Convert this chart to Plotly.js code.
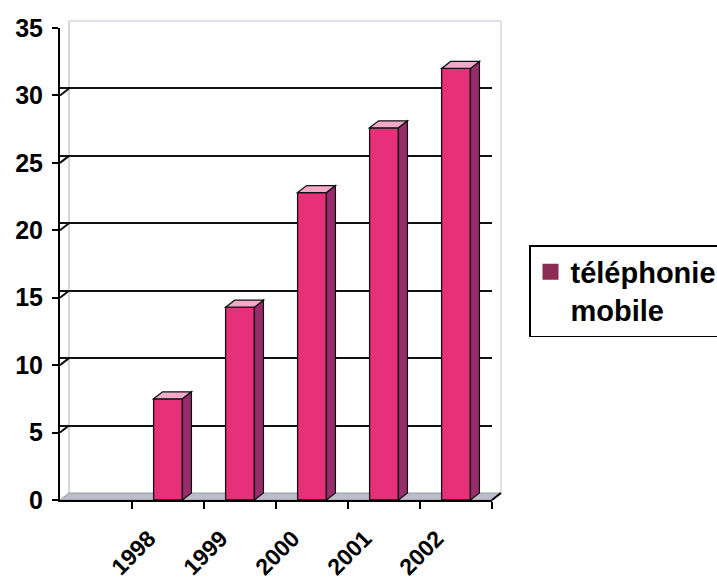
<!DOCTYPE html>
<html>
<head>
<meta charset="utf-8">
<script src="https://cdn.plot.ly/plotly-3.0.1.min.js"></script>
<style>html,body{margin:0;padding:0;background:#fff;}#chart{width:717px;height:581px;}</style>
</head>
<body>
<div id="chart"></div>
<script>
// ---- data ----
var years = ['1998', '1999', '2000', '2001', '2002'];
var values = [7.5, 14.3, 22.8, 27.6, 32.0];
var yTicks = [0, 5, 10, 15, 20, 25, 30, 35];
var seriesName = 'téléphonie<br>mobile';

// ---- style / geometry ----
var FRONT = '#e6317a', SIDE = '#9a2c6c', TOP = '#f5a9c8', SWATCH = '#8c2b55';
var BAR_W = 0.4;
var X_RANGE = [-1.5, 4.5], Y_RANGE = [0, 35];
var L = 60, R = 225, T = 28, B = 81, W = 717, H = 581;
var plotW = W - L - R, plotH = H - T - B;
var DXPX = 9, DYPX = 7; // depth offset in pixels
var DX = DXPX / plotW * (X_RANGE[1] - X_RANGE[0]);
var DY = DYPX / plotH * (Y_RANGE[1] - Y_RANGE[0]);
var dxp = DXPX / plotW, dyp = DYPX / plotH;

var xs = years.map(function (_, i) { return i; });
var bounds = [];
var boundText = [];
for (var i = 0; i <= years.length; i++) { bounds.push(i - 0.5); boundText.push(i < years.length ? years[i] : ''); }

var shapes = [];
// back wall edges and floor (paper refs)
shapes.push({type: 'path', xref: 'paper', yref: 'paper', layer: 'below',
  path: 'M0,0 L1,0 L' + (1 + dxp) + ',' + dyp + ' L' + dxp + ',' + dyp + ' Z',
  fillcolor: '#bcbccb', line: {color: '#9a9aa8', width: 1}});
shapes.push({type: 'line', xref: 'paper', yref: 'paper', layer: 'below',
  x0: dxp, y0: dyp, x1: dxp, y1: 1 + dyp, line: {color: '#c8c8d4', width: 1.5}});
shapes.push({type: 'line', xref: 'paper', yref: 'paper', layer: 'below',
  x0: dxp, y0: 1 + dyp, x1: 1 + dxp, y1: 1 + dyp, line: {color: '#d4d8e4', width: 1.5}});
shapes.push({type: 'line', xref: 'paper', yref: 'paper', layer: 'below',
  x0: 1 + dxp, y0: dyp, x1: 1 + dxp, y1: 1 + dyp, line: {color: '#d4d4dc', width: 1.5}});
shapes.push({type: 'line', xref: 'paper', yref: 'paper', layer: 'above',
  x0: 1, y0: 0, x1: 1 + dxp, y1: dyp, line: {color: '#000', width: 2}});
// small connectors from front ticks to back-wall gridlines
yTicks.slice(1, -1).forEach(function (v) {
  shapes.push({type: 'line', xref: 'paper', yref: 'y', layer: 'below',
    x0: 0, y0: v, x1: dxp, y1: v + DY, line: {color: '#111', width: 2}});
});
// 3D faces of bars
xs.forEach(function (x, i) {
  var v = values[i], xl = x - BAR_W / 2, xr = x + BAR_W / 2;
  shapes.push({type: 'path', xref: 'x', yref: 'y', layer: 'above',
    path: 'M' + xr + ',0 L' + (xr + DX) + ',' + DY + ' L' + (xr + DX) + ',' + (v + DY) + ' L' + xr + ',' + v + ' Z',
    fillcolor: SIDE, line: {color: '#111', width: 1.3}});
  shapes.push({type: 'path', xref: 'x', yref: 'y', layer: 'above',
    path: 'M' + xl + ',' + v + ' L' + (xl + DX) + ',' + (v + DY) + ' L' + (xr + DX) + ',' + (v + DY) + ' L' + xr + ',' + v + ' Z',
    fillcolor: TOP, line: {color: '#111', width: 1.3}});
});

var fontFam = 'Liberation Sans, Arial, sans-serif';

var data = [
  {type: 'bar', x: xs, y: values, width: BAR_W, showlegend: false,
   marker: {color: FRONT, line: {color: '#111', width: 1.3}}, hoverinfo: 'x+y'},
  {type: 'scatter', mode: 'markers', x: [null], y: [null], name: seriesName,
   marker: {symbol: 'square', size: 16, color: SWATCH, line: {width: 0}}},
  // helper trace on back-wall axis to show gridlines
  {type: 'scatter', mode: 'markers', x: [null], y: [null], yaxis: 'y2', showlegend: false, hoverinfo: 'skip'}
];

var layout = {
  width: W, height: H,
  margin: {l: L, r: R, t: T, b: B, autoexpand: false},
  paper_bgcolor: '#fff', plot_bgcolor: 'rgba(0,0,0,0)',
  showlegend: true,
  xaxis: {
    range: X_RANGE, tickmode: 'array', tickvals: bounds, ticktext: boundText,
    tickangle: -45, ticks: 'outside', ticklen: 7, tickwidth: 1.5, tickcolor: '#000',
    ticklabelshift: 17, ticklabelstandoff: 7,
    showline: true, linecolor: '#000', linewidth: 2, showgrid: false, zeroline: false,
    tickfont: {family: fontFam, size: 23, color: '#000', weight: 'bold'}, fixedrange: true
  },
  yaxis: {
    range: Y_RANGE, tickmode: 'array', tickvals: yTicks,
    ticks: 'outside', ticklen: 6, tickwidth: 2, tickcolor: '#000', ticklabelstandoff: 4,
    showline: true, linecolor: '#000', linewidth: 2, showgrid: false, zeroline: false,
    tickfont: {family: fontFam, size: 25, color: '#000', weight: 'bold'}, fixedrange: true
  },
  yaxis2: {
    overlaying: 'y', range: [Y_RANGE[0] - DY, Y_RANGE[1] - DY], tickmode: 'array',
    tickvals: yTicks.slice(1, -1), showticklabels: false, ticks: '', showline: false,
    showgrid: true, gridcolor: '#111', gridwidth: 2, zeroline: false, fixedrange: true
  },
  legend: {
    x: (529 - L) / plotW, xanchor: 'left', y: (H - B - 245) / plotH, yanchor: 'top',
    bgcolor: '#fff', bordercolor: '#000', borderwidth: 1.5, valign: 'top',
    font: {family: fontFam, size: 29, color: '#000', weight: 'bold'}, itemwidth: 30
  },
  shapes: shapes
};

Plotly.newPlot('chart', data, layout, {displayModeBar: false, staticPlot: true});
</script>
</body>
</html>
